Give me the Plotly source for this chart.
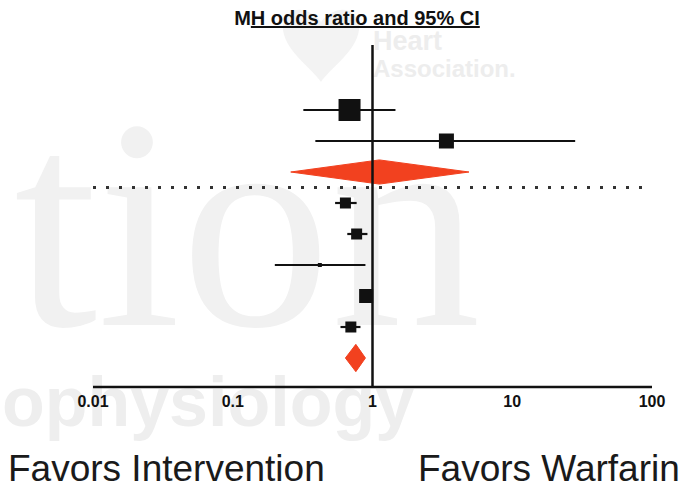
import plotly.graph_objects as go

# ---- data: Mantel-Haenszel odds ratios with 95% CI (top to bottom) ----
row_kind = ["study", "study", "pooled", "study", "study", "study", "study", "study", "pooled"]
odds_ratio = [0.685, 3.38, 1.12, 0.64, 0.77, 0.42, 0.90, 0.70, 0.76]
ci_low = [0.32, 0.39, 0.26, 0.54, 0.66, 0.20, 0.83, 0.59, 0.64]
ci_high = [1.46, 28.2, 4.9, 0.77, 0.92, 0.89, 0.97, 0.82, 0.89]
tick_values = [0.01, 0.1, 1, 10, 100]
tick_labels = ["0.01", "0.1", "1", "10", "100"]
title_text = "M<u>H odds ratio and 95% CI</u>"
left_label = "Favors Intervention"
right_label = "Favors Warfarin"

# ---- styling ----
box_px = [22, 15, 0, 11, 11, 4, 14, 11, 0]       # study box sizes (px)
diamond_half = [0, 0, 0.39, 0, 0, 0, 0, 0, 0.44]  # pooled diamond half height (rows)
RED = "#f2411f"
INK = "#111111"
FONT = "Liberation Sans, Arial, sans-serif"

W, H = 686, 490
# plotting box of the forest plot, in page pixels
BOX_L, BOX_R, BOX_T, BOX_B = 93, 652, 40, 390
LOG_MIN, LOG_MAX = -2, 2
# rows: row 0 sits at 110 px, 31 px per row
ROW0, ROWH = 110, 31

fig = go.Figure()

# ---- background layer (x/y in page pixels): faint journal watermark ----
def watermark(text, px, py, size, family, color, weight="normal", pos="middle right"):
    fig.add_trace(go.Scatter(x=[px], y=[py], mode="text", text=[text],
                             textposition=pos, cliponaxis=False,
                             textfont=dict(size=size, family=family, color=color,
                                           weight=weight),
                             xaxis="x", yaxis="y",
                             hoverinfo="skip", showlegend=False))

watermark("tion", 14, 250, 300, "Liberation Serif, serif", "#f1f1f1")
watermark("ophysiology", 208, 408, 70, FONT, "#eeeeee", weight="bold",
          pos="middle center")
watermark("Heart", 373, 43, 27, FONT, "#ededed", weight="bold")
watermark("Association.", 373, 71, 24, FONT, "#ededed", weight="bold")

# ---- forest plot (x2/y2) ----
rows = list(range(len(odds_ratio)))

# confidence interval lines for individual studies
cx, cy = [], []
for r, k in zip(rows, row_kind):
    if k == "study":
        cx += [ci_low[r], ci_high[r], None]
        cy += [r, r, None]
fig.add_trace(go.Scatter(x=cx, y=cy, mode="lines", xaxis="x2", yaxis="y2",
                         line=dict(color=INK, width=2.2),
                         hoverinfo="skip", showlegend=False))

# study boxes
sx = [odds_ratio[r] for r in rows if row_kind[r] == "study"]
sy = [r for r in rows if row_kind[r] == "study"]
ss = [box_px[r] for r in rows if row_kind[r] == "study"]
fig.add_trace(go.Scatter(x=sx, y=sy, mode="markers", xaxis="x2", yaxis="y2",
                         marker=dict(symbol="square", size=ss, color=INK, opacity=1,
                                     line=dict(width=0)),
                         showlegend=False))

# pooled estimates as diamonds
for r in rows:
    if row_kind[r] != "pooled":
        continue
    h = diamond_half[r]
    fig.add_trace(go.Scatter(
        x=[ci_low[r], odds_ratio[r], ci_high[r], odds_ratio[r], ci_low[r]],
        y=[r, r - h, r, r + h, r], xaxis="x2", yaxis="y2",
        mode="lines", fill="toself", fillcolor=RED,
        line=dict(color=RED, width=1), showlegend=False))

y_top = (BOX_T - ROW0) / ROWH
y_bot = (BOX_B - ROW0) / ROWH
axis_y = (387 - ROW0) / ROWH
line_top = (45 - ROW0) / ROWH

shapes = []

# heart of the watermark logo (page pixels)
hx = [321, 305, 282, 283, 286, 312, 321, 330, 356, 359, 360, 337, 321]
hy = [22, 2, 8, 30, 52, 68, 82, 68, 52, 30, 8, 2, 22]
path = "M {},{} ".format(hx[0], hy[0])
for i in range(1, 12, 3):
    path += "C {},{} {},{} {},{} ".format(hx[i], hy[i], hx[i + 1], hy[i + 1],
                                          hx[i + 2], hy[i + 2])
path += "Z"
shapes.append(dict(type="path", xref="x", yref="y", path=path,
                   fillcolor="#f3f3f3", line=dict(width=0), layer="below"))

# reference line at OR = 1
shapes.append(dict(type="line", xref="x2", yref="y2", x0=1, x1=1,
                   y0=line_top, y1=axis_y, line=dict(color=INK, width=2.5)))
# dotted separator between the two groups
shapes.append(dict(type="line", xref="x2", yref="y2", x0=0.01, x1=85,
                   y0=2.5, y1=2.5, line=dict(color="#333333", width=3, dash="3px,10px")))
# horizontal axis line
shapes.append(dict(type="line", xref="x2", yref="y2", x0=0.01, x1=100,
                   y0=axis_y, y1=axis_y, line=dict(color=INK, width=2.5)))

annotations = [
    dict(text=left_label, x=6, y=468, xref="x", yref="y",
         xanchor="left", yanchor="middle", showarrow=False,
         font=dict(size=37, family=FONT, color="#1a1a1a")),
    dict(text=right_label, x=682, y=468, xref="x", yref="y",
         xanchor="right", yanchor="middle", showarrow=False,
         font=dict(size=37, family=FONT, color="#1a1a1a")),
]

fig.update_layout(
    width=W, height=H,
    margin=dict(l=0, r=0, t=0, b=0, pad=0, autoexpand=False),
    paper_bgcolor="white", plot_bgcolor="rgba(0,0,0,0)",
    title=dict(text=title_text, x=357 / W, y=1 - 18 / H, xref="container",
               yref="container", xanchor="center", yanchor="middle",
               automargin=False,
               font=dict(size=20, family=FONT, color=INK, weight="bold")),
    shapes=shapes, annotations=annotations,
    showlegend=False,
    xaxis=dict(domain=[0, 1], range=[0, W], visible=False, fixedrange=True,
               automargin=False),
    yaxis=dict(domain=[0, 1], range=[H, 0], visible=False, fixedrange=True,
               automargin=False),
    xaxis2=dict(domain=[BOX_L / W, BOX_R / W], anchor="y2", type="log",
                range=[LOG_MIN, LOG_MAX], tickvals=tick_values, ticktext=tick_labels,
                showgrid=False, zeroline=False, showline=False, ticks="",
                tickfont=dict(size=16, family=FONT, color=INK, weight="bold"),
                fixedrange=True, automargin=False),
    yaxis2=dict(domain=[1 - BOX_B / H, 1 - BOX_T / H], anchor="x2",
                range=[y_bot, y_top], visible=False, fixedrange=True,
                automargin=False),
)

fig.write_html("out.html")
